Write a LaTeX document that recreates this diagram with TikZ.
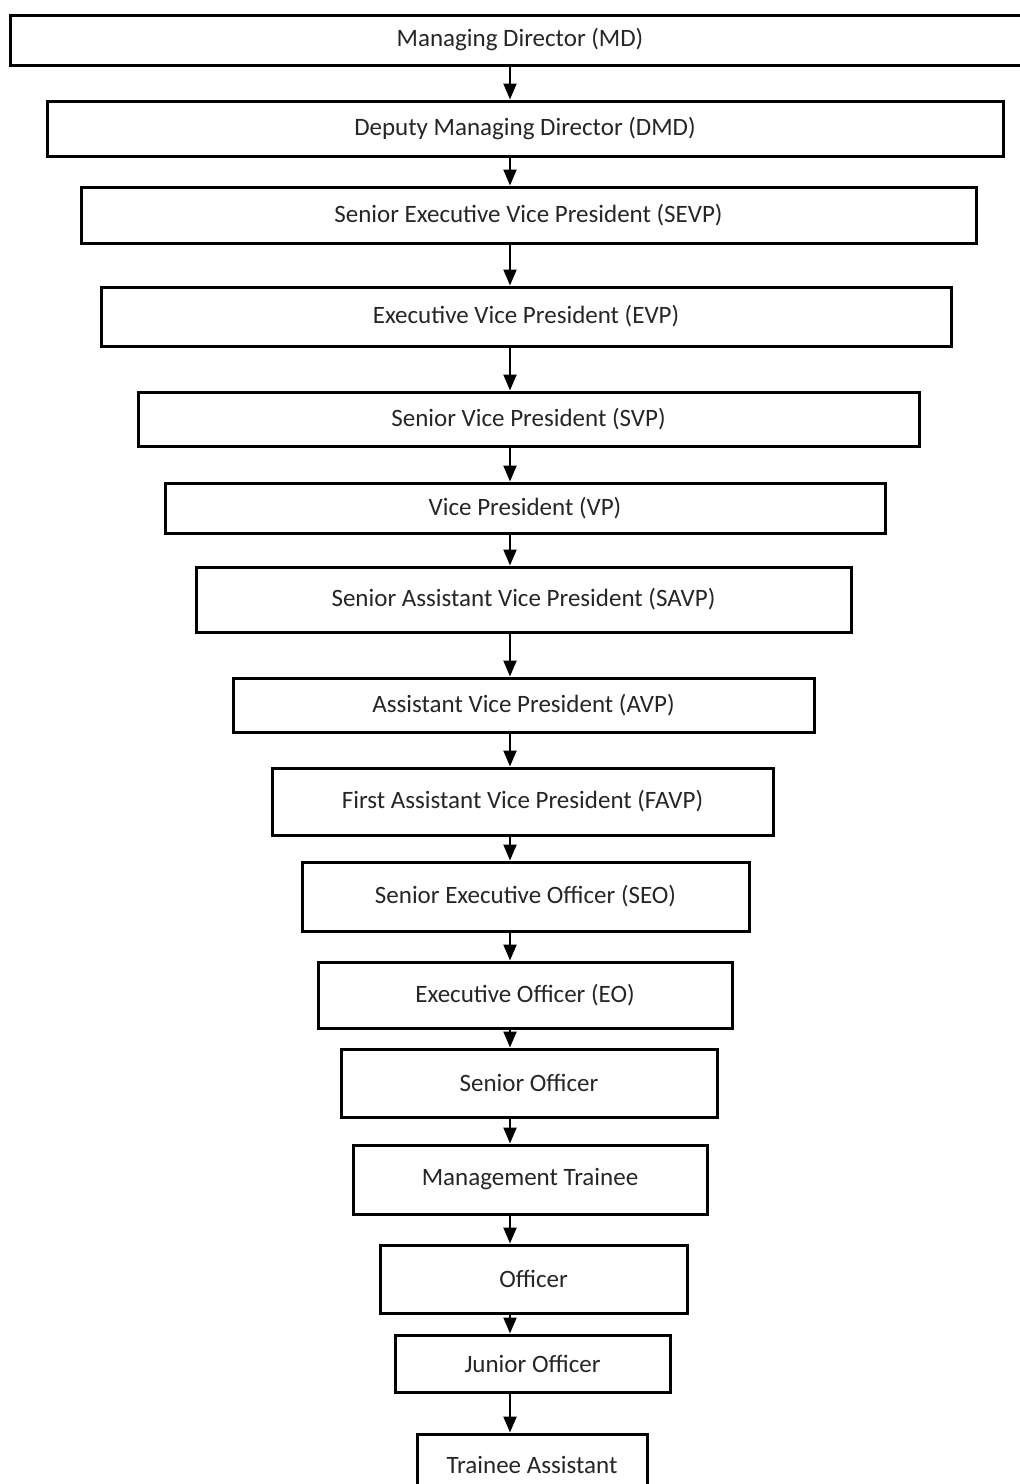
\documentclass[tikz,border=0pt]{standalone}
\usepackage{fontspec}
\setmainfont{Carlito}
\usepackage{tikz}
\usetikzlibrary{arrows.meta,
	calc,
	positioning}
\tikzstyle{rank}=[draw, line width=3pt, inner sep=0, align=center, text=black!85,
		font=\fontsize{25}{30}\selectfont]
\tikzstyle{lnk}=[line width=2.2pt, -{Triangle[length=16pt,width=13pt]}]

\begin{document}
\begin{tikzpicture}
            \useasboundingbox[fill=white] (0,0) rectangle (1020pt,-1484pt);
            \coordinate (ax) at (510pt,0);
            \node[rank, minimum width=1020pt, minimum height=50pt] (md) at (520pt,-40pt) {Managing Director (MD)};
            \node[rank, minimum width=956pt, minimum height=55pt] (dmd) at (525pt,-128.5pt) {Deputy Managing Director (DMD)};
            \node[rank, minimum width=895pt, minimum height=56pt] (sevp) at (528.5pt,-215pt) {Senior Executive Vice President (SEVP)};
            \node[rank, minimum width=850pt, minimum height=59pt] (evp) at (526pt,-316.5pt) {Executive Vice President (EVP)};
            \node[rank, minimum width=781pt, minimum height=54pt] (svp) at (528.5pt,-419pt) {Senior Vice President (SVP)};
            \node[rank, minimum width=720pt, minimum height=50pt] (vp) at (525pt,-508pt) {Vice President (VP)};
            \node[rank, minimum width=655pt, minimum height=65pt] (savp) at (523.5pt,-599.5pt) {Senior Assistant Vice President (SAVP)};
            \node[rank, minimum width=581pt, minimum height=54pt] (avp) at (523.5pt,-705pt) {Assistant Vice President (AVP)};
            \node[rank, minimum width=501pt, minimum height=67pt] (favp) at (522.5pt,-801.5pt) {First Assistant Vice President (FAVP)};
            \node[rank, minimum width=447pt, minimum height=69pt] (seo) at (525.5pt,-896.5pt) {Senior Executive Officer (SEO)};
            \node[rank, minimum width=414pt, minimum height=66pt] (eo) at (525pt,-995pt) {Executive Officer (EO)};
            \node[rank, minimum width=376pt, minimum height=68pt] (so) at (529pt,-1083pt) {Senior Officer};
            \node[rank, minimum width=354pt, minimum height=69pt] (mt) at (530pt,-1179.5pt) {Management Trainee};
            \node[rank, minimum width=307pt, minimum height=68pt] (off) at (533.5pt,-1279pt) {Officer};
            \node[rank, minimum width=275pt, minimum height=57pt] (jo) at (532.5pt,-1363.5pt) {Junior Officer};
            \node[rank, minimum width=230pt, minimum height=62pt] (ta) at (532pt,-1465pt) {Trainee Assistant};
            % chain of command
            \draw[lnk] (md.south -| ax) -- (dmd.north -| ax);
            \draw[lnk] (dmd.south -| ax) -- (sevp.north -| ax);
            \draw[lnk] (sevp.south -| ax) -- (evp.north -| ax);
            \draw[lnk] (evp.south -| ax) -- (svp.north -| ax);
            \draw[lnk] (svp.south -| ax) -- (vp.north -| ax);
            \draw[lnk] (vp.south -| ax) -- (savp.north -| ax);
            \draw[lnk] (savp.south -| ax) -- (avp.north -| ax);
            \draw[lnk] (avp.south -| ax) -- (favp.north -| ax);
            \draw[lnk] (favp.south -| ax) -- (seo.north -| ax);
            \draw[lnk] (seo.south -| ax) -- (eo.north -| ax);
            \draw[lnk] (eo.south -| ax) -- (so.north -| ax);
            \draw[lnk] (so.south -| ax) -- (mt.north -| ax);
            \draw[lnk] (mt.south -| ax) -- (off.north -| ax);
            \draw[lnk] (off.south -| ax) -- (jo.north -| ax);
            \draw[lnk] (jo.south -| ax) -- (ta.north -| ax);
        \end{tikzpicture}
\end{document}
